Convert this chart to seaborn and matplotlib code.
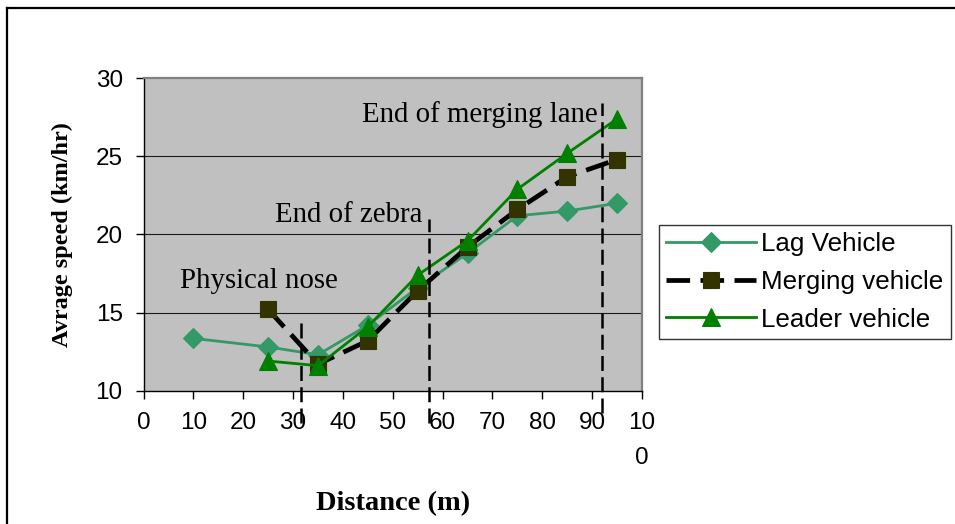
import matplotlib
matplotlib.use("Agg")
import matplotlib.pyplot as plt
from matplotlib.lines import Line2D
import seaborn as sns

# Distance along the merging section (m)
lag_distance = [10, 25, 35, 45, 55, 65, 75, 85, 95]
merge_distance = [25, 35, 45, 55, 65, 75, 85, 95]
leader_distance = [25, 35, 45, 55, 65, 75, 85, 95]

# Average speed (km/hr) per vehicle type
lag_speed = [13.35, 12.8, 12.3, 14.2, 16.6, 18.8, 21.2, 21.5, 22.0]
merge_speed = [15.2, 11.7, 13.2, 16.4, 19.2, 21.6, 23.7, 24.8]
leader_speed = [11.9, 11.6, 14.1, 17.4, 19.6, 22.9, 25.2, 27.4]

series_names = ["Lag Vehicle", "Merging vehicle", "Leader vehicle"]

# Reference sections marked on the road
section_names = ["Physical nose", "End of zebra", "End of merging lane"]
section_x = [31.5, 57.3, 92.0]

x_ticks = [0, 10, 20, 30, 40, 50, 60, 70, 80, 90, 100]
x_tick_labels = ["0", "10", "20", "30", "40", "50", "60", "70", "80", "90", "10\n0"]
y_ticks = [10, 15, 20, 25, 30]

sans = "Liberation Sans"
serif = "Liberation Serif"

fig = plt.figure(figsize=(9.55, 5.24), dpi=100)
fig.patch.set_facecolor("white")
ax = fig.add_axes([0.1503, 0.2544, 0.5220, 0.5962])
ax.set_facecolor("#C0C0C0")

# horizontal gridlines
for yv in y_ticks[1:-1]:
    ax.axhline(yv, color="#1a1a1a", lw=0.8, zorder=1)

sns.lineplot(x=lag_distance, y=lag_speed, ax=ax, color="#339966", lw=2.0,
             marker="D", markersize=10, markerfacecolor="#339966",
             markeredgecolor="#339966", markeredgewidth=0.8,
             label=series_names[0], zorder=3)
sns.lineplot(x=merge_distance, y=merge_speed, ax=ax, color="black", lw=3.4,
             linestyle=(0, (5, 2.2)), marker="s", markersize=12,
             markerfacecolor="#333300", markeredgecolor="#333300",
             markeredgewidth=0.8, label=series_names[1], zorder=4)
sns.lineplot(x=leader_distance, y=leader_speed, ax=ax, color="#008000", lw=2.0,
             marker="^", markersize=12.5, markerfacecolor="#008000",
             markeredgecolor="#008000", markeredgewidth=0.8,
             label=series_names[2], zorder=5)

# dashed section markers, extending below the axis
section_top = [14.7, 21.0, 28.4]
section_bottom = [7.9, 7.9, 8.6]
for xs, top, bot in zip(section_x, section_top, section_bottom):
    ax.plot([xs, xs], [bot, top], color="black", lw=1.8,
            linestyle=(0, (6, 2.5)), clip_on=False, zorder=6)

# section labels
label_pos = [(7.3, 17.0), (26.4, 21.25), (43.8, 27.65)]
for name, (lx, ly) in zip(section_names, label_pos):
    ax.text(lx, ly, name, fontsize=20.8, family=serif, ha="left", va="center",
            color="black", zorder=7)

ax.set_xlim(0, 100)
ax.set_ylim(10, 30)
ax.set_xticks(x_ticks)
ax.set_xticklabels(x_tick_labels, fontsize=17.5, family=sans, linespacing=1.8)
ax.set_yticks(y_ticks)
ax.set_yticklabels([str(v) for v in y_ticks], fontsize=17.5, family=sans)
ax.tick_params(axis="both", direction="out", length=6, width=1, color="black")
ax.tick_params(axis="x", pad=9)
ax.tick_params(axis="y", pad=9)

for side in ["top", "right"]:
    ax.spines[side].set_color("#808080")
    ax.spines[side].set_linewidth(1.6)
for side in ["left", "bottom"]:
    ax.spines[side].set_color("black")
    ax.spines[side].set_linewidth(1.0)

ax.set_xlabel("Distance (m)", fontsize=20.5, family=serif, fontweight="bold",
              labelpad=16)
ax.set_ylabel("Avrage speed (km/hr)", fontsize=17.5, family=serif,
              fontweight="bold", labelpad=16)

leg = ax.legend(loc="upper left", bbox_to_anchor=(659 / 955, 1 - 225 / 524),
                bbox_transform=fig.transFigure, borderaxespad=0,
                frameon=True, fancybox=False, shadow=False,
                prop={"family": sans, "size": 18.7}, handlelength=3.45,
                handletextpad=0.22, labelspacing=0.53, borderpad=0.27)
leg.get_frame().set_edgecolor("black")
leg.get_frame().set_linewidth(1.0)

# outer frame of the chart area (top and left edges)
fig.add_artist(Line2D([7 / 955, 1.0], [1 - 8 / 524, 1 - 8 / 524],
                      color="black", lw=1.6, transform=fig.transFigure))
fig.add_artist(Line2D([7 / 955, 7 / 955], [1 - 8 / 524, 0.0],
                      color="black", lw=1.6, transform=fig.transFigure))

fig.savefig("out.png", dpi=100)
